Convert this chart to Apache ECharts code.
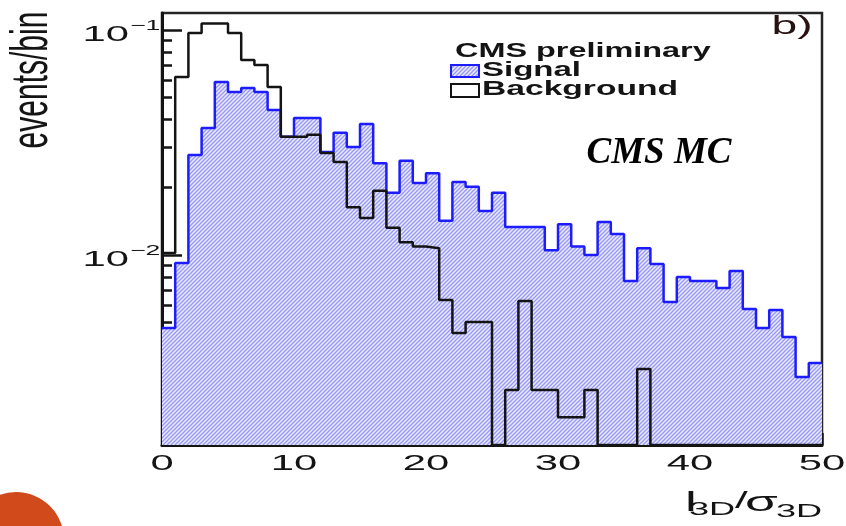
<!DOCTYPE html>
<html>
<head>
<meta charset="utf-8">
<script src="https://cdn.jsdelivr.net/npm/echarts@6.0.0/dist/echarts.min.js"></script>
<style>
  html, body { margin: 0; padding: 0; background: #fff; }
  #chart { width: 846px; height: 526px; }
</style>
</head>
<body>
<div id="chart"></div>
<script>
// 3D impact-parameter significance l3D/sigma3D, events per unit-width bin
const binLow = [0, 1, 2, 3, 4, 5, 6, 7, 8, 9,
                10, 11, 12, 13, 14, 15, 16, 17, 18, 19,
                20, 21, 22, 23, 24, 25, 26, 27, 28, 29,
                30, 31, 32, 33, 34, 35, 36, 37, 38, 39,
                40, 41, 42, 43, 44, 45, 46, 47, 48, 49];

const signal = [0.00474, 0.00921, 0.0278, 0.0367, 0.0587, 0.0530, 0.0552, 0.0530, 0.0441, 0.0335,
                0.0406, 0.0406, 0.0287, 0.0349, 0.0302, 0.0382, 0.0256, 0.0189, 0.0262, 0.0209,
                0.0231, 0.0142, 0.0211, 0.0201, 0.0157, 0.0189, 0.0133, 0.0133, 0.0133, 0.0105,
                0.0137, 0.0109, 0.0100, 0.0140, 0.0124, 0.00766, 0.0107, 0.00912, 0.00618, 0.00798,
                0.00766, 0.00766, 0.00713, 0.00849, 0.00575, 0.00474, 0.00570, 0.00432, 0.00287, 0.00331];

const background = [0.0102, 0.0618, 0.0970, 0.107, 0.107, 0.0970, 0.0736, 0.0699, 0.0558, 0.0335,
                    0.0335, 0.0342, 0.0284, 0.0259, 0.0163, 0.0146, 0.0193, 0.0132, 0.0114, 0.0109,
                    0.0107, 0.00631, 0.00450, 0.00504, 0.00504, 0, 0.00251, 0.00624, 0.00251, 0.00251,
                    0.00190, 0.00190, 0.00251, 0, 0, 0, 0.00311, 0, 0, 0,
                    0, 0, 0, 0, 0, 0, 0, 0, 0, 0];

const xTickLabels = [0, 10, 20, 30, 40, 50];
const yDecades = [0.1, 0.01];
const yDecadeExp = ['\u22121', '\u22122'];
const yMinorTicks = [0.002, 0.003, 0.004, 0.005, 0.006, 0.007, 0.008, 0.009,
                     0.02, 0.03, 0.04, 0.05, 0.06, 0.07, 0.08, 0.09];

const xMin = 0, xMax = 50;
const yMin = 0.00143, yMax = 0.119;

const SANS = '"Liberation Sans", Arial, Helvetica, sans-serif';
const INK = '#141414';

// diagonal hatch used for the signal fill
function hatchCanvas() {
  const c = document.createElement('canvas');
  c.width = 4; c.height = 4;
  const g = c.getContext('2d');
  g.fillStyle = '#e9e9fd';
  g.fillRect(0, 0, 4, 4);
  g.strokeStyle = '#9797f4';
  g.lineWidth = 1.25;
  g.beginPath();
  g.moveTo(-1, 5); g.lineTo(5, -1);
  g.moveTo(-1, 1); g.lineTo(1, -1);
  g.moveTo(3, 5); g.lineTo(5, 3);
  g.stroke();
  return c;
}
const hatch = hatchCanvas();

// histogram outline: one point per lower bin edge plus the closing upper edge;
// empty bins drop to the bottom of the frame
function stepPoints(values) {
  const pts = binLow.map((x, i) => [x, values[i] > 0 ? values[i] : yMin]);
  const last = values[values.length - 1];
  pts.push([xMax, last > 0 ? last : yMin]);
  return pts;
}

function logAxis(tickValues, tickLen, showLine) {
  return {
    type: 'log', logBase: 10, min: yMin, max: yMax, position: 'left',
    axisLine: { show: showLine, lineStyle: { color: INK, width: 3 } },
    axisTick: { show: true, inside: true, length: tickLen, customValues: tickValues,
                lineStyle: { color: INK, width: 2.5 } },
    axisLabel: { show: false },
    splitLine: { show: false }
  };
}

const chart = echarts.init(document.getElementById('chart'), null, { renderer: 'canvas' });

chart.setOption({
  animation: false,
  backgroundColor: '#fff',
  grid: {
    left: 162, right: 24, top: 13, bottom: 81,
    show: true, borderColor: '#262626', borderWidth: 2.5, backgroundColor: 'transparent'
  },
  xAxis: {
    type: 'value', min: xMin, max: xMax, interval: 10,
    axisLine: { show: true, onZero: false, lineStyle: { color: INK, width: 3 } },
    axisTick: { show: true, inside: true, length: 12, lineStyle: { color: INK, width: 2.5 } },
    minorTick: { show: true, splitNumber: 5, length: 7, lineStyle: { color: INK, width: 2.5 } },
    axisLabel: { show: false },
    splitLine: { show: false },
    minorSplitLine: { show: false }
  },
  yAxis: [
    logAxis(yDecades, 20, true),
    logAxis(yMinorTicks, 10, false)
  ],
  series: [
    {
      name: 'Signal', type: 'line', step: 'end',
      data: stepPoints(signal),
      symbol: 'none',
      lineStyle: { color: '#1c1cff', width: 2.5 },
      areaStyle: { origin: 'start', color: { image: hatch, repeat: 'repeat' }, opacity: 1 },
      z: 2
    },
    {
      name: 'Background', type: 'line', step: 'end',
      data: stepPoints(background),
      symbol: 'none',
      lineStyle: { color: INK, width: 2.5 },
      z: 3
    }
  ]
});

// text: tick labels placed at the axis positions, titles and legend
function txt(text, x, y, opts) {
  return Object.assign({
    type: 'text', x: x, y: y, silent: true,
    style: Object.assign({
      text: text, fill: INK, fontFamily: SANS, fontSize: 22,
      align: 'center', verticalAlign: 'middle'
    }, opts.style || {})
  }, opts.el || {});
}

const graphics = [];

xTickLabels.forEach(v => {
  const px = chart.convertToPixel({ xAxisIndex: 0 }, v);
  graphics.push(txt(String(v), px, 464, { el: { scaleX: 1.9 }, style: { fontSize: 22 } }));
});

yDecades.forEach((v, i) => {
  const py = chart.convertToPixel({ yAxisIndex: 0 }, v);
  graphics.push(txt('10', 129, py + 5, { el: { scaleX: 1.9 }, style: { fontSize: 22, align: 'right' } }));
  graphics.push(txt(yDecadeExp[i], 130, py - 3.5, { el: { scaleX: 1.9 }, style: { fontSize: 14, align: 'left' } }));
});

// y title, rotated, widened in x
graphics.push({
  type: 'group', x: 33, y: 80, scaleX: 1.75, silent: true,
  children: [{
    type: 'text', rotation: Math.PI / 2,
    style: { text: 'events/bin', fill: INK, fontFamily: SANS, fontSize: 30, align: 'center', verticalAlign: 'middle' }
  }]
});

// x title  l_3D / sigma_3D
graphics.push(txt('l', 685, 503, { el: { scaleX: 1.9 }, style: { fontSize: 28, align: 'left' } }));
graphics.push(txt('3D', 689, 510, { el: { scaleX: 1.9 }, style: { fontSize: 19, align: 'left' } }));
graphics.push(txt('/', 735, 501, { el: { scaleX: 1.9 }, style: { fontSize: 24, align: 'left' } }));
graphics.push(txt('\u03c3', 745, 503, { el: { scaleX: 1.9 }, style: { fontSize: 28, align: 'left' } }));
graphics.push(txt('3D', 776, 512, { el: { scaleX: 1.9 }, style: { fontSize: 19, align: 'left' } }));

// legend
graphics.push(txt('CMS preliminary', 455, 51, { el: { scaleX: 1.62 }, style: { fontSize: 20, fontWeight: 'bold', align: 'left' } }));
graphics.push({
  type: 'rect', silent: true, shape: { x: 451, y: 65, width: 28, height: 12 },
  style: { fill: { image: hatch, repeat: 'repeat' }, stroke: '#1c1cff', lineWidth: 2 }
});
graphics.push(txt('Signal', 482, 70, { el: { scaleX: 1.65 }, style: { fontSize: 20, fontWeight: 'bold', align: 'left' } }));
graphics.push({
  type: 'rect', silent: true, shape: { x: 451, y: 84, width: 28, height: 13 },
  style: { fill: '#fff', stroke: INK, lineWidth: 2 }
});
graphics.push(txt('Background', 482, 89, { el: { scaleX: 1.68 }, style: { fontSize: 20, fontWeight: 'bold', align: 'left' } }));

// panel tag and MC label
graphics.push(txt('b)', 792, 27, { el: { scaleX: 1.85 }, style: { fontSize: 25, fill: '#2a1212' } }));
graphics.push(txt('CMS MC', 659, 153, {
  style: { fontFamily: '"Liberation Serif", "Times New Roman", serif', fontSize: 37, fontWeight: 'bold', fontStyle: 'italic', fill: '#000' }
}));

// slide bullet in the lower-left corner
graphics.push({
  type: 'circle', silent: true, shape: { cx: 16, cy: 540, r: 48 },
  style: { fill: '#d14a1b' }
});

chart.setOption({ graphic: graphics });
</script>
</body>
</html>
